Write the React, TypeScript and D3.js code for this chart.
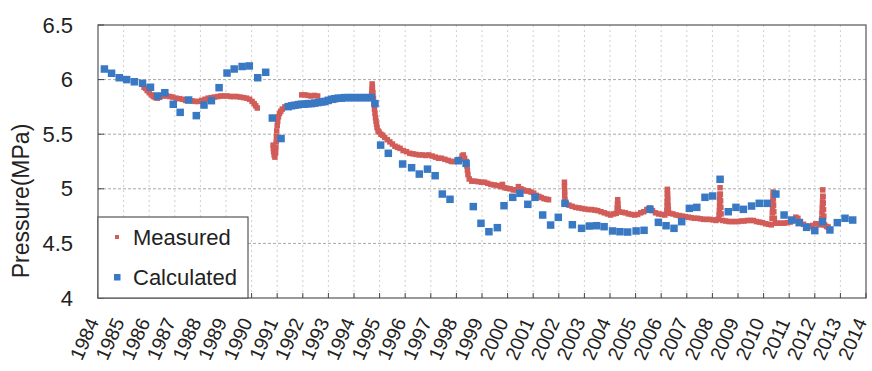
import * as d3 from "d3";

const W = 872;
const H = 371;
const MARGIN = { top: 25, right: 6, bottom: 73, left: 98 };
const FONT = "'Liberation Sans', Arial, sans-serif";
const RED = "#d25c58";
const BLUE = "#3979c4";

const years = d3.range(1984, 2015);
const yTicks = [4, 4.5, 5, 5.5, 6, 6.5];

// Measured pressure, [year, MPa]
const measured: [number, number][] = [
  [1985.8, 5.93], [1985.86, 5.92], [1985.92, 5.9], [1986.0, 5.88], [1986.08, 5.86], [1986.16, 5.845],
  [1986.24, 5.835], [1986.32, 5.83], [1986.42, 5.84], [1986.55, 5.85], [1986.68, 5.85], [1986.8, 5.845],
  [1986.92, 5.84], [1987.05, 5.83], [1987.18, 5.825], [1987.3, 5.82], [1987.42, 5.81], [1987.55, 5.81],
  [1987.68, 5.805], [1987.8, 5.8], [1987.92, 5.8], [1988.05, 5.81], [1988.18, 5.82], [1988.3, 5.83],
  [1988.42, 5.835], [1988.55, 5.84], [1988.68, 5.845], [1988.8, 5.85], [1988.92, 5.85], [1989.05, 5.85],
  [1989.18, 5.845], [1989.3, 5.845], [1989.42, 5.845], [1989.55, 5.84], [1989.68, 5.835], [1989.8, 5.83],
  [1989.92, 5.82], [1990.02, 5.8], [1990.1, 5.78], [1990.16, 5.76], [1990.22, 5.74],
  [1990.84, 5.4], [1990.85, 5.37], [1990.86, 5.34], [1990.88, 5.31], [1990.91, 5.29], [1990.94, 5.33],
  [1990.95, 5.38], [1990.96, 5.43], [1990.97, 5.48], [1990.98, 5.53], [1991.0, 5.58], [1991.02, 5.62],
  [1991.05, 5.66], [1991.09, 5.69], [1991.14, 5.71], [1991.2, 5.73], [1991.3, 5.75], [1991.45, 5.76],
  [1991.6, 5.77], [1991.8, 5.78], [1991.96, 5.86], [1992.08, 5.86], [1992.2, 5.855], [1992.32, 5.85],
  [1992.45, 5.855], [1992.58, 5.85], [1992.7, 5.8], [1992.85, 5.79], [1993.0, 5.8], [1993.2, 5.81],
  [1993.4, 5.82], [1993.6, 5.83], [1993.8, 5.83], [1994.0, 5.83], [1994.2, 5.83], [1994.4, 5.83],
  [1994.6, 5.83], [1994.69, 5.87], [1994.7, 5.91], [1994.71, 5.96], [1994.72, 5.93], [1994.74, 5.88],
  [1994.76, 5.83], [1994.78, 5.78], [1994.8, 5.73], [1994.82, 5.69], [1994.84, 5.65], [1994.86, 5.62],
  [1994.88, 5.59], [1994.9, 5.56], [1994.94, 5.53], [1994.98, 5.52], [1995.05, 5.5], [1995.12, 5.49],
  [1995.2, 5.47], [1995.3, 5.45], [1995.4, 5.43], [1995.5, 5.41], [1995.6, 5.39], [1995.7, 5.38],
  [1995.8, 5.37], [1995.92, 5.35], [1996.05, 5.34], [1996.18, 5.325], [1996.3, 5.32], [1996.42, 5.315],
  [1996.55, 5.31], [1996.68, 5.31], [1996.8, 5.305], [1996.92, 5.31], [1997.05, 5.3], [1997.18, 5.29],
  [1997.3, 5.28], [1997.42, 5.28], [1997.55, 5.27], [1997.68, 5.26], [1997.8, 5.25], [1997.92, 5.25],
  [1998.05, 5.26], [1998.15, 5.27], [1998.22, 5.3], [1998.27, 5.31], [1998.32, 5.28], [1998.38, 5.25],
  [1998.41, 5.21], [1998.43, 5.17], [1998.45, 5.13], [1998.5, 5.09], [1998.6, 5.07], [1998.72, 5.07],
  [1998.85, 5.065], [1998.98, 5.06], [1999.1, 5.06], [1999.22, 5.05], [1999.35, 5.04], [1999.48, 5.035],
  [1999.6, 5.03], [1999.72, 5.02], [1999.8, 5.04], [1999.88, 5.01], [1999.98, 5.005], [2000.1, 5.0],
  [2000.22, 4.99], [2000.32, 4.99], [2000.42, 5.02], [2000.52, 5.0], [2000.62, 4.99], [2000.72, 4.98],
  [2000.82, 4.98], [2000.92, 4.97], [2001.02, 4.96], [2001.12, 4.94], [2001.22, 4.93], [2001.32, 4.92],
  [2001.42, 4.91], [2001.52, 4.905], [2001.6, 4.9],
  [2002.22, 5.06], [2002.22, 5.02], [2002.23, 4.98], [2002.23, 4.94], [2002.24, 4.9], [2002.26, 4.87],
  [2002.3, 4.86], [2002.4, 4.85], [2002.52, 4.84], [2002.65, 4.83], [2002.78, 4.825], [2002.9, 4.82],
  [2003.02, 4.815], [2003.15, 4.81], [2003.28, 4.81], [2003.4, 4.805], [2003.52, 4.8], [2003.65, 4.79],
  [2003.78, 4.78], [2003.9, 4.77], [2004.02, 4.76], [2004.14, 4.77], [2004.24, 4.775], [2004.28, 4.82],
  [2004.29, 4.86], [2004.3, 4.9], [2004.31, 4.86], [2004.32, 4.82], [2004.36, 4.79], [2004.48, 4.785],
  [2004.6, 4.78], [2004.72, 4.77], [2004.84, 4.765], [2004.96, 4.76], [2005.08, 4.765], [2005.2, 4.78],
  [2005.32, 4.79], [2005.44, 4.81], [2005.56, 4.825], [2005.66, 4.8], [2005.78, 4.78], [2005.9, 4.77],
  [2006.02, 4.765], [2006.14, 4.76], [2006.22, 4.8], [2006.23, 4.84], [2006.23, 4.88], [2006.24, 4.92],
  [2006.24, 4.96], [2006.24, 4.995], [2006.25, 4.95], [2006.26, 4.9], [2006.27, 4.85], [2006.28, 4.81],
  [2006.34, 4.775], [2006.46, 4.77], [2006.58, 4.76], [2006.7, 4.755], [2006.82, 4.75], [2006.94, 4.745],
  [2007.06, 4.74], [2007.18, 4.735], [2007.3, 4.73], [2007.42, 4.73], [2007.54, 4.725], [2007.66, 4.72],
  [2007.78, 4.72], [2007.9, 4.72], [2008.02, 4.715], [2008.14, 4.71], [2008.22, 4.72], [2008.26, 4.76],
  [2008.27, 4.8], [2008.28, 4.85], [2008.28, 4.9], [2008.29, 4.95], [2008.3, 5.01], [2008.31, 4.95],
  [2008.32, 4.89], [2008.33, 4.83], [2008.34, 4.77], [2008.4, 4.71], [2008.52, 4.705], [2008.64, 4.7],
  [2008.76, 4.7], [2008.88, 4.7], [2009.0, 4.7], [2009.12, 4.705], [2009.24, 4.705], [2009.36, 4.71],
  [2009.48, 4.71], [2009.6, 4.71], [2009.72, 4.7], [2009.84, 4.695], [2009.96, 4.69], [2010.08, 4.68],
  [2010.2, 4.675], [2010.3, 4.67], [2010.33, 4.73], [2010.34, 4.78], [2010.35, 4.83], [2010.36, 4.88],
  [2010.37, 4.93], [2010.37, 4.97], [2010.38, 4.91], [2010.39, 4.85], [2010.4, 4.79], [2010.42, 4.73],
  [2010.45, 4.685], [2010.56, 4.685], [2010.68, 4.685], [2010.8, 4.685], [2010.92, 4.69], [2011.04, 4.695],
  [2011.16, 4.71], [2011.26, 4.74], [2011.34, 4.73], [2011.44, 4.7], [2011.56, 4.675], [2011.68, 4.66],
  [2011.8, 4.655], [2011.92, 4.665], [2012.04, 4.68], [2012.16, 4.675], [2012.24, 4.67], [2012.27, 4.73],
  [2012.28, 4.78], [2012.29, 4.83], [2012.3, 4.88], [2012.31, 4.93], [2012.31, 4.99], [2012.32, 4.93],
  [2012.33, 4.87], [2012.34, 4.81], [2012.35, 4.75], [2012.38, 4.67], [2012.46, 4.655], [2012.52, 4.65],
];

// Calculated pressure, [year, MPa]
const calculated: [number, number][] = [
  [1984.25, 6.097], [1984.53, 6.058], [1984.83, 6.017], [1985.12, 6.0], [1985.42, 5.98], [1985.74, 5.966],
  [1986.05, 5.93], [1986.33, 5.85], [1986.61, 5.88], [1986.94, 5.774], [1987.21, 5.7], [1987.54, 5.813],
  [1987.84, 5.67], [1988.14, 5.767], [1988.43, 5.807], [1988.73, 5.926], [1989.04, 6.06], [1989.32, 6.097],
  [1989.63, 6.12], [1989.91, 6.125], [1990.24, 6.017], [1990.55, 6.067], [1990.81, 5.648], [1991.15, 5.46],
  [1991.43, 5.752], [1991.56, 5.76], [1991.69, 5.765], [1991.82, 5.77], [1991.95, 5.775], [1992.08, 5.775],
  [1992.21, 5.78], [1992.34, 5.78], [1992.47, 5.785], [1992.6, 5.79], [1992.73, 5.795], [1992.86, 5.8],
  [1992.99, 5.81], [1993.12, 5.82], [1993.25, 5.825], [1993.38, 5.83], [1993.51, 5.83], [1993.64, 5.835],
  [1993.77, 5.835], [1993.9, 5.835], [1994.03, 5.835], [1994.16, 5.835], [1994.29, 5.835], [1994.42, 5.835],
  [1994.55, 5.835], [1994.68, 5.835], [1994.82, 5.78], [1995.04, 5.4], [1995.34, 5.325], [1995.9, 5.227],
  [1996.25, 5.193], [1996.55, 5.135], [1996.87, 5.18], [1997.17, 5.12], [1997.45, 4.952], [1997.75, 4.904],
  [1998.07, 5.257], [1998.38, 5.233], [1998.66, 4.837], [1998.96, 4.684], [1999.27, 4.607], [1999.6, 4.644],
  [1999.86, 4.845], [2000.2, 4.922], [2000.48, 4.959], [2000.79, 4.858], [2001.07, 4.922], [2001.37, 4.76],
  [2001.68, 4.668], [2001.98, 4.739], [2002.24, 4.867], [2002.53, 4.671], [2002.89, 4.638], [2003.19, 4.659],
  [2003.48, 4.662], [2003.77, 4.653], [2004.1, 4.614], [2004.39, 4.607], [2004.69, 4.604], [2005.02, 4.614],
  [2005.33, 4.62], [2005.56, 4.812], [2005.89, 4.693], [2006.19, 4.662], [2006.5, 4.638], [2006.8, 4.699],
  [2007.1, 4.821], [2007.39, 4.83], [2007.71, 4.922], [2008.01, 4.934], [2008.3, 5.087], [2008.62, 4.79],
  [2008.92, 4.83], [2009.21, 4.812], [2009.53, 4.842], [2009.83, 4.867], [2010.14, 4.867], [2010.48, 4.952],
  [2010.8, 4.76], [2011.1, 4.714], [2011.39, 4.69], [2011.68, 4.647], [2012.0, 4.617], [2012.3, 4.699],
  [2012.59, 4.623], [2012.88, 4.69], [2013.18, 4.73], [2013.48, 4.714],
];

export default function App() {
  const x = d3.scaleLinear().domain([1984, 2014]).range([MARGIN.left, W - MARGIN.right]);
  const y = d3.scaleLinear().domain([4, 6.5]).range([H - MARGIN.bottom, MARGIN.top]);
  const [x0, x1] = x.range();
  const [yb, yt] = y.range();

  const redSize = 5.5;
  const blueSize = 7.5;

  return (
    <svg
      width={W}
      height={H}
      style={{ position: "absolute", left: 0, top: 0, background: "#fff" }}
      fontFamily={FONT}
    >
      {/* grid */}
      {years.slice(1, -1).map((yr) => (
        <line key={yr} x1={x(yr)} x2={x(yr)} y1={yt} y2={yb} stroke="#cfcfcf" strokeDasharray="2,3" />
      ))}
      {yTicks.slice(1, -1).map((v) => (
        <line key={v} x1={x0} x2={x1} y1={y(v)} y2={y(v)} stroke="#a8a8a8" strokeDasharray="3,2" />
      ))}

      {/* frame */}
      <rect x={x0} y={yt} width={x1 - x0} height={yb - yt} fill="none" stroke="#555" strokeWidth={1.2} />

      {/* ticks */}
      {years.map((yr) => (
        <line key={yr} x1={x(yr)} x2={x(yr)} y1={yb} y2={yb - 5} stroke="#444" />
      ))}
      {yTicks.map((v) => (
        <line key={v} x1={x0} x2={x0 + 6} y1={y(v)} y2={y(v)} stroke="#444" />
      ))}

      {/* y tick labels */}
      {yTicks.map((v) => (
        <text key={v} x={73} y={y(v)} textAnchor="end" dominantBaseline="central" fontSize={22} fill="#222">
          {d3.format("")(v)}
        </text>
      ))}

      {/* x tick labels */}
      {years.map((yr) => (
        <text
          key={yr}
          transform={`translate(${x(yr) - 5},${yb + 21}) rotate(-66)`}
          textAnchor="end"
          dominantBaseline="central"
          fontSize={19.5}
          fill="#222"
        >
          {yr}
        </text>
      ))}

      {/* y title */}
      <text
        transform={`translate(21,201) rotate(-90)`}
        textAnchor="middle"
        dominantBaseline="central"
        fontSize={23}
        fill="#222"
      >
        Pressure(MPa)
      </text>

      {/* measured */}
      {measured.map(([t, p], i) => (
        <rect
          key={`m${i}`}
          x={x(t) - redSize / 2}
          y={y(p) - redSize / 2}
          width={redSize}
          height={redSize}
          fill={RED}
        />
      ))}

      {/* calculated */}
      {calculated.map(([t, p], i) => (
        <rect
          key={`c${i}`}
          x={x(t) - blueSize / 2}
          y={y(p) - blueSize / 2}
          width={blueSize}
          height={blueSize}
          fill={BLUE}
        />
      ))}

      {/* legend */}
      <g>
        <rect x={x0} y={217} width={150} height={yb - 217} fill="#fff" stroke="#555" strokeWidth={1.2} />
        <rect x={115} y={235} width={4} height={4} fill={RED} />
        <text x={133} y={237} dominantBaseline="central" fontSize={22} fill="#222">
          Measured
        </text>
        <rect x={114} y={274} width={6.5} height={6.5} fill={BLUE} />
        <text x={133} y={277} dominantBaseline="central" fontSize={22} fill="#222">
          Calculated
        </text>
      </g>
    </svg>
  );
}
